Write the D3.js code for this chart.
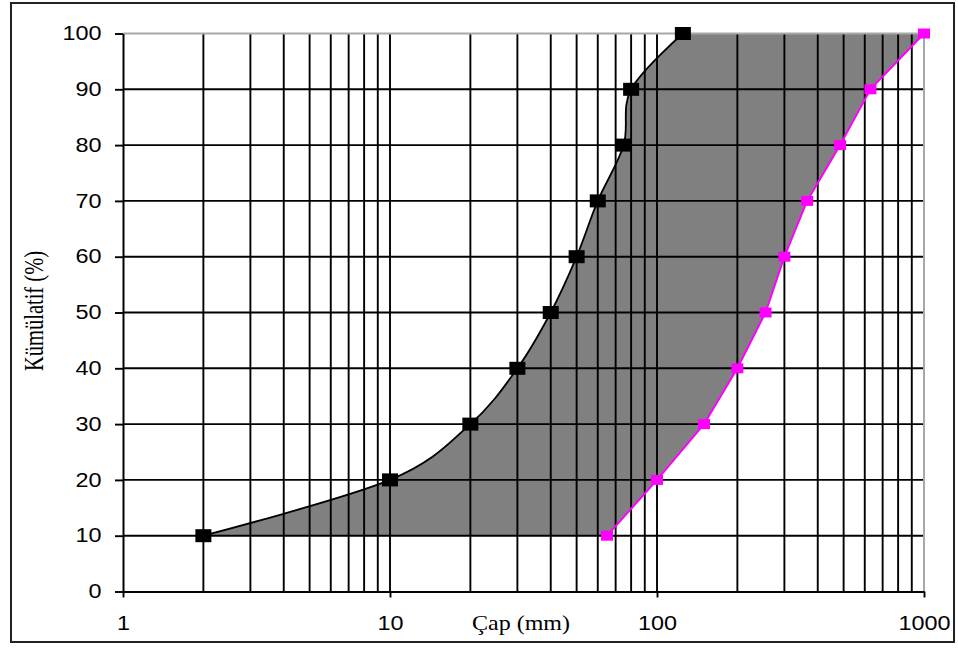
<!DOCTYPE html>
<html>
<head>
<meta charset="utf-8">
<script src="https://cdn.jsdelivr.net/npm/d3@7"></script>
<style>
  body { margin: 0; background: #fff; }
</style>
</head>
<body>
<svg width="958" height="650"></svg>
<script>
// kümülatif yüzde (her iki eğri için aynı)
var pct = [10, 20, 30, 40, 50, 60, 70, 80, 90, 100];
// ince sınır (siyah) ve iri sınır (pembe), mm
var fineSize = [2, 10, 20, 30, 40, 50, 60, 75, 80, 125];
var coarseSize = [65, 100, 150, 200, 255, 300, 365, 485, 630, 1000];
var xTicks = [1, 10, 100, 1000];
var yTicks = [0, 10, 20, 30, 40, 50, 60, 70, 80, 90, 100];

function main() {
    var svg = d3.select("svg");

    var x = d3.scaleLog().domain([1, 1000]).range([123, 924]),
        y = d3.scaleLinear().domain([0, 100]).range([591.5, 33.5]);

    var fine = pct.map(function(p, i) { return [fineSize[i], p]; });
    var coarse = pct.map(function(p, i) { return [coarseSize[i], p]; });

    // outer chart frame
    svg.append("rect")
        .attr("x", 11).attr("y", 3)
        .attr("width", 943).attr("height", 639)
        .attr("fill", "#fff")
        .attr("stroke", "#222")
        .attr("stroke-width", 2);

    var smooth = d3.line()
        .x(function(d) { return x(d[0]); })
        .y(function(d) { return y(d[1]); })
        .curve(d3.curveCatmullRom.alpha(0));
    var straight = d3.line()
        .x(function(d) { return x(d[0]); })
        .y(function(d) { return y(d[1]); });

    // gray band between the two curves
    var band = smooth(fine) + "L" + straight(coarse.slice().reverse()).slice(1) + "Z";
    svg.append("path")
        .attr("d", band)
        .attr("fill", "#808080");

    // grid
    var grid = svg.append("g").attr("stroke", "#000").attr("stroke-width", 1.9);
    grid.selectAll(".vg")
        .data(x.ticks().filter(function(d) { return d > 1 && d < 1000; }))
        .enter().append("line")
        .attr("x1", function(d) { return x(d); })
        .attr("x2", function(d) { return x(d); })
        .attr("y1", y(0)).attr("y2", y(100));
    grid.selectAll(".hg")
        .data(yTicks.filter(function(d) { return d > 0 && d < 100; }))
        .enter().append("line")
        .attr("y1", function(d) { return y(d); })
        .attr("y2", function(d) { return y(d); })
        .attr("x1", x(1)).attr("x2", x(1000));

    // plot area border (top / right)
    svg.append("path")
        .attr("d", "M" + x(1) + "," + y(100) + "H" + x(1000) + "V" + y(0))
        .attr("fill", "none")
        .attr("stroke", "#a8a8a8")
        .attr("stroke-width", 2);

    // axes
    var yAxis = svg.append("g")
        .attr("transform", "translate(" + x(1) + ",0)")
        .call(d3.axisLeft(y).tickValues(yTicks).tickSize(8).tickSizeOuter(0).tickPadding(10));
    var xAxis = svg.append("g")
        .attr("transform", "translate(0," + y(0) + ")")
        .call(d3.axisBottom(x).tickValues(xTicks).tickFormat(d3.format("d"))
            .tickSize(6).tickSizeOuter(0).tickPadding(19));

    [yAxis, xAxis].forEach(function(ax) {
        ax.select(".domain").attr("stroke", "#000").attr("stroke-width", 2);
        ax.selectAll(".tick line").attr("stroke", "#000").attr("stroke-width", 1.9);
        ax.selectAll("text")
            .attr("fill", "#000")
            .attr("font-family", "'Liberation Sans', Arial, sans-serif")
            .attr("font-size", "19.5px")
            .attr("transform", "scale(1.2,1)");
    });

    // curves
    svg.append("path")
        .attr("d", smooth(fine))
        .attr("fill", "none")
        .attr("stroke", "#000")
        .attr("stroke-width", 1.8);
    svg.append("path")
        .attr("d", straight(coarse))
        .attr("fill", "none")
        .attr("stroke", "#ff00ff")
        .attr("stroke-width", 2);

    // markers
    svg.selectAll(".mf")
        .data(fine)
        .enter().append("rect")
        .attr("x", function(d) { return x(d[0]) - 8; })
        .attr("y", function(d) { return y(d[1]) - 6.5; })
        .attr("width", 16).attr("height", 13)
        .attr("fill", "#000");
    svg.selectAll(".mc")
        .data(coarse)
        .enter().append("rect")
        .attr("x", function(d) { return x(d[0]) - 6; })
        .attr("y", function(d) { return y(d[1]) - 5; })
        .attr("width", 12).attr("height", 10)
        .attr("fill", "#ff00ff");

    // axis titles
    svg.append("text")
        .attr("transform", "translate(521,630) scale(1.2,1)")
        .attr("text-anchor", "middle")
        .attr("font-family", "'Liberation Serif', 'Times New Roman', serif")
        .attr("font-size", "20px")
        .text("Çap (mm)");
    svg.append("text")
        .attr("transform", "translate(43,311) scale(1.3,1) rotate(-90)")
        .attr("text-anchor", "middle")
        .attr("font-family", "'Liberation Serif', 'Times New Roman', serif")
        .attr("font-size", "20.5px")
        .text("Kümülatif (%)");
}
main();
</script>
</body>
</html>
